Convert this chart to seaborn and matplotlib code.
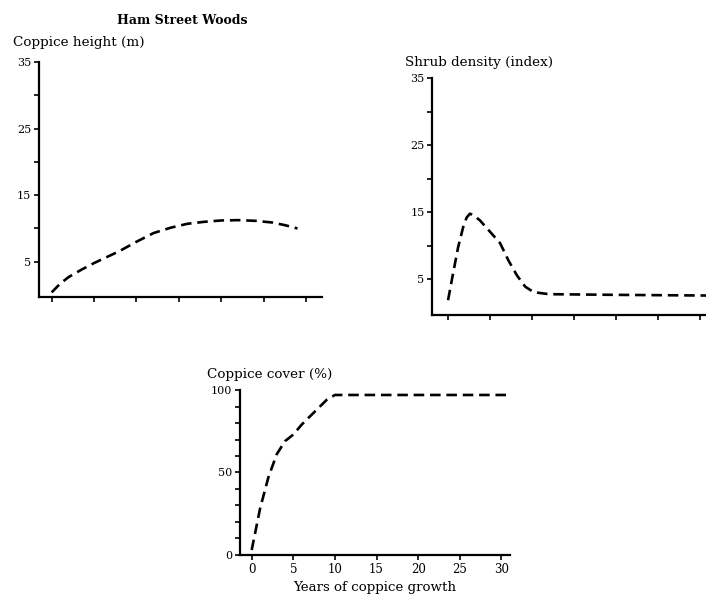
import numpy as np
import pandas as pd
import seaborn as sns
import matplotlib.pyplot as plt

# values (years of coppice growth)
height_years = [0, 1, 2, 3.5, 5, 6.5, 8, 10, 12, 14, 16, 18, 20, 22, 24, 26, 27.5, 29]
height_m = [0.4, 1.7, 2.7, 3.8, 4.8, 5.7, 6.6, 8.0, 9.3, 10.1, 10.7, 11.0, 11.2, 11.25, 11.15, 10.9, 10.5, 10.0]

shrub_years = [0, 0.6, 1.2, 1.8, 2.2, 2.6, 3.0, 3.8, 5, 6.2, 7.2, 8.2, 9.2, 10.2, 12, 20, 30.7]
shrub_index = [1.9, 5.9, 9.8, 12.8, 14.2, 14.8, 14.6, 13.8, 12.1, 10.4, 7.8, 5.6, 3.9, 3.1, 2.8, 2.7, 2.6]

cover_years = [0, 1, 2, 3, 4, 5, 6, 7, 8, 9, 10, 15, 20, 25, 31]
cover_pct = [3, 28, 47, 61, 69, 73, 79, 84, 89, 94, 97, 97, 97, 97, 97]

year_ticks = [0, 5, 10, 15, 20, 25, 30]

sns.set_style("ticks")
plt.rcParams['font.family'] = ['DejaVu Serif']
plt.rcParams['text.color'] = 'black'
plt.rcParams['axes.labelcolor'] = 'black'
plt.rcParams['axes.edgecolor'] = 'black'
plt.rcParams['axes.linewidth'] = 1.6
plt.rcParams['xtick.major.width'] = 1.2
plt.rcParams['ytick.major.width'] = 1.2
plt.rcParams['xtick.major.size'] = 3.5
plt.rcParams['ytick.major.size'] = 3.5

fig = plt.figure(figsize=(7.06, 5.97), dpi=100)

ax_h = fig.add_axes([0.0552, 0.5025, 0.401, 0.3935])
ax_s = fig.add_axes([0.612, 0.4724, 0.388, 0.3966])
ax_c = fig.add_axes([0.34, 0.0704, 0.382, 0.2763])

line_kw = dict(color='black', linewidth=1.9, dashes=(4, 2.2))

df_h = pd.DataFrame({'year': height_years, 'value': height_m})
df_s = pd.DataFrame({'year': shrub_years, 'value': shrub_index})
df_c = pd.DataFrame({'year': cover_years, 'value': cover_pct})

sns.lineplot(data=df_h, x='year', y='value', ax=ax_h, **line_kw)
sns.lineplot(data=df_s, x='year', y='value', ax=ax_s, **line_kw)
sns.lineplot(data=df_c, x='year', y='value', ax=ax_c, **line_kw)

for ax in (ax_h, ax_s):
    ax.set_ylim(-0.3, 35)
    ax.set_yticks([5, 10, 15, 20, 25, 30, 35])
    ax.set_yticklabels(['5', '', '15', '', '25', '', '35'], fontsize=8)
    ax.set_xticks(year_ticks)
    ax.set_xticklabels([])

ax_h.set_xlim(-1.5, 31.9)
ax_s.set_xlim(-1.9, 30.7)

ax_c.set_xlim(-1.4, 31)
ax_c.set_ylim(0, 100)
ax_c.set_yticks(np.arange(0, 101, 10))
ax_c.set_yticklabels(['0', '', '', '', '', '50', '', '', '', '', '100'], fontsize=8)
ax_c.set_xticks(year_ticks)
ax_c.set_xticklabels([str(t) for t in year_ticks], fontsize=8.5)
ax_c.set_xlabel('Years of coppice growth', fontsize=9.6, labelpad=4)

for ax in (ax_h, ax_s, ax_c):
    sns.despine(ax=ax)
    ax.set_ylabel('')
    if ax is not ax_c:
        ax.set_xlabel('')
    ax.tick_params(colors='black', pad=2)

fig.text(0.258, 0.966, 'Ham Street Woods', fontsize=9, fontweight='bold',
         ha='center', va='center')
fig.text(0.019, 0.928, 'Coppice height (m)', fontsize=9.7, ha='left', va='center')
fig.text(0.574, 0.896, 'Shrub density (index)', fontsize=9.7, ha='left', va='center')
fig.text(0.293, 0.372, 'Coppice cover (%)', fontsize=9.7, ha='left', va='center')

fig.savefig('out.png', dpi=100)
